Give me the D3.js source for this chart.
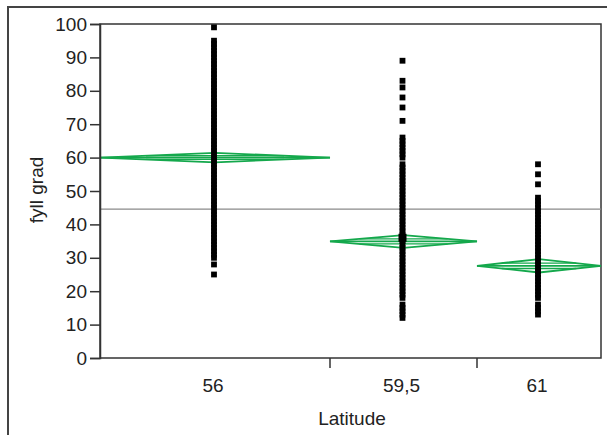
<!DOCTYPE html>
<html>
<head>
<meta charset="utf-8">
<script src="https://cdn.jsdelivr.net/npm/d3@7"></script>
<style>
  body { margin: 0; background: #fff; }
  svg text { font-family: "Liberation Sans", Arial, sans-serif; fill: #222; }
</style>
</head>
<body>
<svg id="chart" width="607" height="435"></svg>
<script>
// groups (latitude) and relative sample sizes (JMP draws group widths by n)
var groups = ["56", "59,5", "61"];
var groupSize = [230, 147, 124];

// observed "fyll grad" values per group
var lat56Values = [25, 28, 30, 31, 32, 33, 34, 35, 36, 37, 38, 39, 40, 41, 42, 43, 44, 45, 46, 47, 48, 49,
    50, 51, 52, 53, 54, 55, 56, 57, 58, 59, 60, 61, 62, 63, 64, 65, 66, 67, 68, 69, 70, 71, 72, 73, 74,
    75, 76, 77, 78, 79, 80, 81, 82, 83, 84, 85, 86, 87, 88, 89, 90, 91, 92, 93, 94, 95, 99];
var lat595Values = [12, 13, 14, 15, 16, 18, 19, 20, 21, 22, 23, 24, 25, 26, 27, 28, 29, 30, 31, 32, 33, 34,
    35, 36, 37, 38, 39, 40, 41, 42, 43, 44, 45, 46, 47, 48, 49, 50, 51, 52, 53, 54, 55, 56, 57, 58,
    60, 61, 62, 63, 64, 65, 66, 71, 75, 78, 81, 83, 89];
var lat61Values = [13, 14, 15, 16, 18, 19, 20, 21, 22, 23, 24, 25, 26, 27, 28, 29, 30, 31, 32, 33, 34, 35,
    36, 37, 38, 39, 40, 41, 42, 43, 44, 45, 46, 47, 48, 52, 55, 58];

// means diamonds
var groupMeans = [60, 34.9, 27.6];
var groupCI = [1.4, 1.9, 2.0];
var grandMean = 44.6;

var yTicks = [0, 10, 20, 30, 40, 50, 60, 70, 80, 90, 100];

var svg = d3.select("#chart"),
    margin = { left: 100, top: 24, right: 6, bottom: 77 },
    width = 607, height = 435,
    green = "#14a84c",
    fontSize = 19;

var total = d3.sum(groupSize);
var cum = [0];
groupSize.forEach(function (n, i) { cum.push(cum[i] + n); });

var x = d3.scaleLinear().domain([0, total]).range([margin.left, width - margin.right]);
var y = d3.scaleLinear().domain([0, 100]).range([height - margin.bottom, margin.top]);

var groupData = groups.map(function (g, i) {
    return {
        name: g,
        x0: x(cum[i]), x1: x(cum[i + 1]),
        xc: x((cum[i] + cum[i + 1]) / 2),
        mean: groupMeans[i], ci: groupCI[i],
        values: [lat56Values, lat595Values, lat61Values][i]
    };
});

// outer frame
svg.append("path")
    .attr("d", "M8,435V7H607")
    .attr("fill", "none").attr("stroke", "#444").attr("stroke-width", 2);

// plot frame
svg.append("rect")
    .attr("x", margin.left).attr("y", margin.top)
    .attr("width", width - margin.right - margin.left)
    .attr("height", height - margin.bottom - margin.top)
    .attr("fill", "none").attr("stroke", "#333").attr("stroke-width", 1.5);

// grand mean
svg.append("line")
    .attr("x1", margin.left).attr("x2", width - margin.right)
    .attr("y1", y(grandMean)).attr("y2", y(grandMean))
    .attr("stroke", "#8a8a8a").attr("stroke-width", 1.2);

// means diamonds
var dia = svg.append("g").selectAll("g").data(groupData).join("g");
dia.append("path")
    .attr("d", function (d) {
        return "M" + d.x0 + "," + y(d.mean) + "L" + d.xc + "," + y(d.mean + d.ci) +
            "L" + d.x1 + "," + y(d.mean) + "L" + d.xc + "," + y(d.mean - d.ci) + "Z";
    })
    .attr("fill", "none").attr("stroke", green).attr("stroke-width", 1.8);
dia.append("line")
    .attr("x1", function (d) { return d.x0; }).attr("x2", function (d) { return d.x1; })
    .attr("y1", function (d) { return y(d.mean); }).attr("y2", function (d) { return y(d.mean); })
    .attr("stroke", green).attr("stroke-width", 1.8);
[-1, 1].forEach(function (s) {
    dia.append("line")
        .attr("x1", function (d) { return d.xc - (d.xc - d.x0) * 0.6; })
        .attr("x2", function (d) { return d.xc + (d.x1 - d.xc) * 0.6; })
        .attr("y1", function (d) { return y(d.mean + s * d.ci * 0.4); })
        .attr("y2", function (d) { return y(d.mean + s * d.ci * 0.4); })
        .attr("stroke", green).attr("stroke-width", 1.3);
});

// points
var sq = 5.8;
groupData.forEach(function (g) {
    svg.append("g").selectAll("rect").data(g.values).join("rect")
        .attr("x", g.xc - 1 - sq / 2)
        .attr("y", function (v) { return y(v) - sq / 2; })
        .attr("width", sq).attr("height", sq)
        .attr("fill", "#000");
});
// mean marker cluster for 59,5
svg.append("rect")
    .attr("x", groupData[1].xc - 1 - 4).attr("y", y(36) - 4)
    .attr("width", 8).attr("height", 8).attr("fill", "#000");

// y axis
var yAxis = svg.append("g")
    .attr("transform", "translate(" + margin.left + ",0)")
    .call(d3.axisLeft(y).tickValues(yTicks).tickSize(10).tickPadding(3));
yAxis.select(".domain").attr("stroke", "#333").attr("stroke-width", 1.5);
yAxis.selectAll(".tick line").attr("stroke", "#333").attr("stroke-width", 1.5);
yAxis.selectAll("text").attr("font-size", fontSize).style("fill", "#222");

// x axis: boundaries as ticks, labels at group centers
var xb = svg.append("g");
xb.selectAll("line").data(cum.slice(1, -1)).join("line")
    .attr("x1", function (c) { return x(c); }).attr("x2", function (c) { return x(c); })
    .attr("y1", height - margin.bottom).attr("y2", height - margin.bottom + 10)
    .attr("stroke", "#333").attr("stroke-width", 1.5);
xb.selectAll("text").data(groupData).join("text")
    .attr("x", function (d) { return d.xc - 2; })
    .attr("y", 392)
    .attr("text-anchor", "middle")
    .attr("font-size", fontSize)
    .text(function (d) { return d.name; });

// axis titles
svg.append("text")
    .attr("x", 352).attr("y", 425)
    .attr("text-anchor", "middle").attr("font-size", fontSize)
    .text("Latitude");
svg.append("text")
    .attr("transform", "translate(43,190) rotate(-90)")
    .attr("text-anchor", "middle").attr("font-size", fontSize)
    .text("fyll grad");
</script>
</body>
</html>
